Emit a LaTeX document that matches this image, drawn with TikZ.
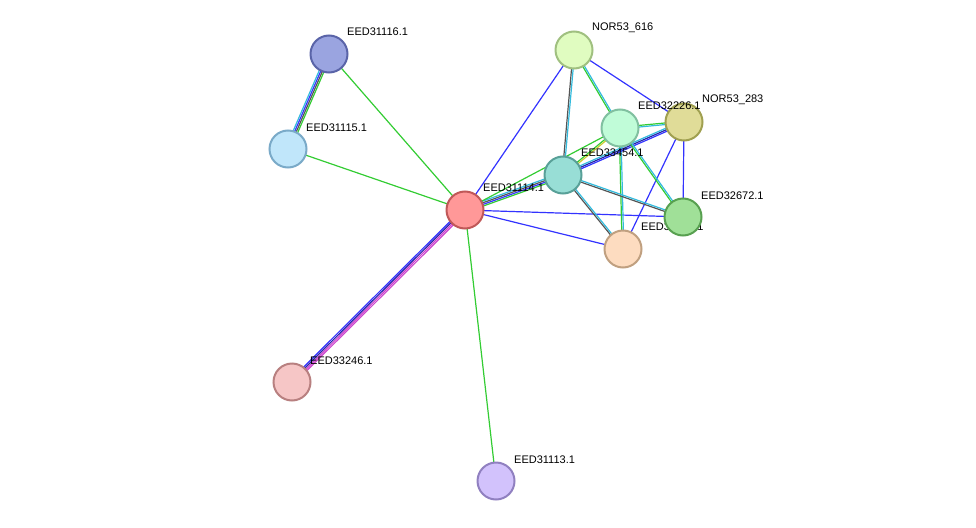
\documentclass[tikz,border=0pt]{standalone}
\usepackage{fontspec}
\setmainfont{Liberation Sans}
\usetikzlibrary{calc}
\definecolor{cB}{HTML}{3333FF}
\definecolor{cG}{HTML}{33CC33}
\definecolor{cC}{HTML}{33BBDD}
\definecolor{cK}{HTML}{555555}
\definecolor{cM}{HTML}{CC44CC}
\definecolor{cY}{HTML}{CCCC33}
\definecolor{cD}{HTML}{2222AA}
\tikzset{
 prot/.style={circle,minimum size=37pt,inner sep=0pt,line width=2pt},
 lab/.style={anchor=west,font=\fontsize{11pt}{12pt}\selectfont,inner sep=0pt},
 ed/.style={line width=1.2pt}
}
\newcommand{\medge}[3]{%
 \foreach \c [count=\i] in {#3} {\xdef\nn{\i}}%
 \foreach \c [count=\i] in {#3} {%
   \pgfmathsetmacro\o{(\i-(\nn+1)/2)*1.6}%
   \draw[ed,\c] ($(#1)!\o pt!90:(#2)$) -- ($(#2)!\o pt!-90:(#1)$);}%
}
\begin{document}
\begin{tikzpicture}[x=1pt,y=-1pt]
\useasboundingbox (0,0) rectangle (976,527);
\coordinate (A) at (329,54);
\coordinate (B) at (288,149);
\coordinate (C) at (465,210);
\coordinate (D) at (292,382);
\coordinate (E) at (496,481);
\coordinate (F) at (574,50);
\coordinate (G) at (620,128);
\coordinate (H) at (684,122);
\coordinate (I) at (563,175);
\coordinate (J) at (683,217);
\coordinate (K) at (623,249);
\medge{A}{B}{cC,cB,cK,cG}
\medge{A}{C}{cG}
\medge{B}{C}{cG}
\medge{C}{D}{cB,cD,cM,cM}
\medge{C}{E}{cG}
\medge{C}{F}{cB}
\medge{C}{I}{cG,cB,cK,cC}
\medge{C}{G}{cG}
\medge{C}{J}{cB}
\medge{C}{K}{cB}
\medge{F}{I}{cK,cC}
\medge{F}{G}{cG,cC}
\medge{F}{H}{cB}
\medge{G}{H}{cC,cG}
\medge{G}{K}{cG,cC}
\medge{G}{I}{cG,cY}
\medge{I}{H}{cB,cD,cC}
\medge{H}{J}{cB}
\medge{H}{K}{cB}
\medge{G}{J}{cG,cC}
\medge{I}{J}{cK,cC}
\medge{I}{K}{cK,cC}
\node[lab] at (641,227) {EED32671.1};
\node[prot,fill={rgb,255:red,154;green,164;blue,224},draw={rgb,255:red,90;green,100;blue,168}] (nA) at (A) {};
\node[prot,fill={rgb,255:red,192;green,230;blue,250},draw={rgb,255:red,122;green,170;blue,200}] (nB) at (B) {};
\node[prot,fill={rgb,255:red,255;green,152;blue,152},draw={rgb,255:red,192;green,88;blue,88}] (nC) at (C) {};
\node[prot,fill={rgb,255:red,246;green,198;blue,198},draw={rgb,255:red,184;green,128;blue,128}] (nD) at (D) {};
\node[prot,fill={rgb,255:red,210;green,194;blue,252},draw={rgb,255:red,144;green,128;blue,192}] (nE) at (E) {};
\node[prot,fill={rgb,255:red,224;green,252;blue,192},draw={rgb,255:red,160;green,192;blue,128}] (nF) at (F) {};
\node[prot,fill={rgb,255:red,192;green,252;blue,216},draw={rgb,255:red,128;green,192;blue,160}] (nG) at (G) {};
\node[prot,fill={rgb,255:red,224;green,220;blue,152},draw={rgb,255:red,160;green,160;blue,80}] (nH) at (H) {};
\node[prot,fill={rgb,255:red,152;green,222;blue,214},draw={rgb,255:red,88;green,160;blue,152}] (nI) at (I) {};
\node[prot,fill={rgb,255:red,253;green,220;blue,192},draw={rgb,255:red,192;green,160;blue,128}] (nK) at (K) {};
\node[prot,fill={rgb,255:red,160;green,224;blue,152},draw={rgb,255:red,88;green,160;blue,80}] (nJ) at (J) {};
\node[lab] at (347,32) {EED31116.1};
\node[lab] at (306,128) {EED31115.1};
\node[lab] at (483,188) {EED31114.1};
\node[lab] at (310,361) {EED33246.1};
\node[lab] at (514,460) {EED31113.1};
\node[lab] at (592,28) {NOR53\_616};
\node[lab] at (638,106) {EED32226.1};
\node[lab] at (702,100) {NOR53\_283};
\node[lab] at (581,153) {EED33454.1};
\node[lab] at (701,196) {EED32672.1};
\end{tikzpicture}
\end{document}
